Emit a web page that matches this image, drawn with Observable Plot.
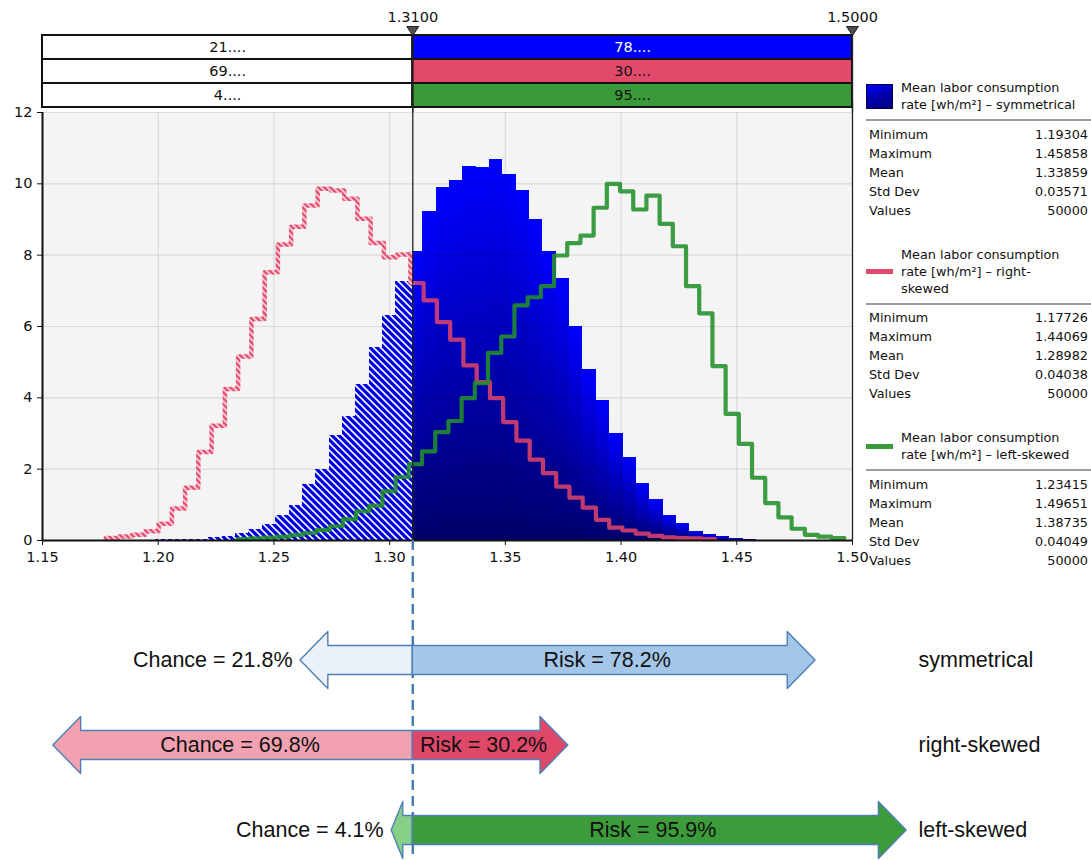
<!DOCTYPE html>
<html>
<head>
<meta charset="utf-8">
<script src="https://cdn.jsdelivr.net/npm/d3@7"></script>
<script src="https://cdn.jsdelivr.net/npm/@observablehq/plot@0.6"></script>
<style>
  body { margin: 0; background: #fff; }
  #wrap { position: relative; width: 1091px; height: 860px; overflow: hidden; font-family: "DejaVu Sans", sans-serif; }
  .layer { position: absolute; left: 0; }
  #legend { position: absolute; left: 866px; top: 79px; width: 225px; font-family: "DejaVu Sans", sans-serif; font-size: 12.8px; color: #111; }
  .lg-head { display: flex; align-items: center; line-height: 17px; white-space: nowrap; }
  .lg-sw { width: 27px; flex: none; margin-right: 8px; }
  .lg-sep { margin-top: 6px; border-top: 2px solid #9c9c9c; }
  .lg-stats { margin-top: 3.5px; padding: 0 3px; }
  .lg-row { display: flex; justify-content: space-between; height: 19px; line-height: 19px; }
  .lg-block { margin-bottom: 26px; }
</style>
</head>
<body>
<svg width="0" height="0" style="position:absolute">
  <defs>
    <pattern id="blueHatch" patternUnits="userSpaceOnUse" width="7" height="7">
      <rect width="7" height="7" fill="#0000e2"/>
      <path d="M-1,-1 L8,8 M-1,6 L1,8 M6,-1 L8,1" stroke="#ffffff" stroke-width="1.6"/>
    </pattern>
    <pattern id="redHatch" patternUnits="userSpaceOnUse" width="6" height="6">
      <rect width="6" height="6" fill="#e3486c"/>
      <path d="M-1,-1 L7,7 M-1,5 L1,7 M5,-1 L7,1" stroke="#ffffff" stroke-width="1.5"/>
    </pattern>
    <linearGradient id="blueGrad" x1="0" y1="0" x2="0" y2="1">
      <stop offset="0" stop-color="#0000ff"/>
      <stop offset="1" stop-color="#00006a"/>
    </linearGradient>
  </defs>
</svg>
<div id="wrap"></div>
<script>
// ---------------- data ----------------
const distributions = ["symmetrical", "right-skewed", "left-skewed"];
const seriesColors = ["#0000ff", "#e24a6c", "#3a9a3a"];
const statMin = [1.19304, 1.17726, 1.23415];
const statMax = [1.45858, 1.44069, 1.49651];
const statMean = [1.33859, 1.28982, 1.38735];
const statSd = [0.03571, 0.04038, 0.04049];
const statN = [50000, 50000, 50000];
const statLabels = ["Minimum", "Maximum", "Mean", "Std Dev", "Values"];
const legendHeaders = [
  ["Mean labor consumption", "rate [wh/m²] – symmetrical"],
  ["Mean labor consumption", "rate [wh/m²] – right-", "skewed"],
  ["Mean labor consumption", "rate [wh/m²] – left-skewed"]
];
const threshold = 1.31;
const upperLimit = 1.50;
const markers = [threshold, upperLimit];
const chancePct = [21.8, 69.8, 4.1];
const riskPct = [78.2, 30.2, 95.9];
const chanceShort = ["21....", "69....", "4...."];
const riskShort = ["78....", "30....", "95...."];
const chanceFill = ["#eaf1fa", "#f2a1b1", "#86d086"];
const riskFill = ["#a3c6e9", "#e0486a", "#3c9c3c"];
const xTicks = [1.15, 1.20, 1.25, 1.30, 1.35, 1.40, 1.45, 1.50];
const yTicks = [0, 2, 4, 6, 8, 10, 12];

// histogram densities (46 bins each, from minimum to maximum)
const densitySym = [0.01,0.02,0.02,0.03,0.04,0.08,0.12,0.20,0.30,0.44,
  0.69,0.97,1.56,2.00,2.93,3.48,4.36,5.40,6.30,7.25,
  8.10,9.22,9.89,10.09,10.49,10.47,10.68,10.26,9.81,9.00,
  8.10,7.34,6.00,4.80,3.93,3.01,2.33,1.59,1.15,0.70,
  0.47,0.25,0.17,0.11,0.07,0.04];
const densityRight = [0.07,0.11,0.16,0.26,0.47,0.90,1.48,2.48,3.22,4.25,
  5.16,6.21,7.52,8.30,8.80,9.39,9.86,9.81,9.58,9.02,
  8.34,7.94,8.02,7.22,6.73,6.12,5.63,4.91,4.44,3.99,
  3.32,2.80,2.27,1.89,1.51,1.20,0.92,0.58,0.36,0.28,
  0.19,0.13,0.09,0.07,0.06,0.04];
const densityLeft = [0.04,0.06,0.08,0.11,0.16,0.21,0.30,0.40,0.60,0.82,
  0.98,1.38,1.78,2.14,2.50,3.04,3.35,3.99,4.41,5.26,
  5.72,6.59,6.82,7.13,7.99,8.34,8.55,9.33,10.00,9.79,
  9.28,9.67,8.88,8.25,7.13,6.37,4.89,3.55,2.71,1.76,
  1.05,0.65,0.33,0.16,0.11,0.07];

// ---------------- helpers ----------------
const wrap = document.getElementById("wrap");
const xDomain = [xTicks[0], xTicks[xTicks.length - 1]];
const svgStyle = "background: transparent; overflow: visible; font-family: 'DejaVu Sans', sans-serif; font-size: 14.5px; color: #111;";
const tickFont = 14.5;

function bins(i, vals) {
  const w = (statMax[i] - statMin[i]) / vals.length;
  return vals.map((v, k) => ({x1: statMin[i] + k * w, x2: statMin[i] + (k + 1) * w, v}));
}
function stepPts(i, vals) {
  const w = (statMax[i] - statMin[i]) / vals.length;
  const pts = vals.map((v, k) => ({x: statMin[i] + k * w, y: v}));
  pts.push({x: statMax[i], y: vals[vals.length - 1]});
  return pts;
}
function splitAt(pts, t) {
  const j = pts.findIndex(p => p.x > t) - 1;
  const yv = pts[j].y;
  return [[...pts.slice(0, j + 1), {x: t, y: yv}], [{x: t, y: yv}, ...pts.slice(j + 1)]];
}
function place(el, top) {
  el.classList.add("layer");
  el.style.top = top + "px";
  wrap.appendChild(el);
}

// ---------------- top probability bars ----------------
const rowsData = distributions.map((d, i) => ({
  name: d, color: seriesColors[i], left: chanceShort[i], right: riskShort[i],
  textColor: i === 0 ? "#ffffff" : "#111111"
}));
const triDown = {
  draw(ctx) { ctx.moveTo(-6, -9); ctx.lineTo(6, -9); ctx.lineTo(0, 0); ctx.closePath(); }
};
const plotA = Plot.plot({
  width: 900, height: 112,
  marginLeft: 42, marginRight: 48, marginTop: 35, marginBottom: 5,
  style: svgStyle,
  x: {domain: xDomain, axis: null},
  y: {domain: distributions, axis: null, padding: 0},
  color: {type: "identity"},
  marks: [
    Plot.barX(rowsData, {x1: () => xDomain[0], x2: () => threshold, y: "name", fill: "#ffffff", stroke: "#111", strokeWidth: 2}),
    Plot.barX(rowsData, {x1: () => threshold, x2: () => upperLimit, y: "name", fill: "color", stroke: "#111", strokeWidth: 2}),
    Plot.text(rowsData, {x: () => (xDomain[0] + threshold) / 2, y: "name", text: "left", fill: "#111", fontSize: 14.5}),
    Plot.text(rowsData, {x: () => (threshold + upperLimit) / 2, y: "name", text: "right", fill: "textColor", fontSize: 14.5}),
    Plot.ruleX(markers, {x: d => d, stroke: "#222", strokeWidth: 1.3, insetTop: -8, insetBottom: -5}),
    Plot.dot(markers, {x: d => d, frameAnchor: "top", symbol: triDown, fill: "#4d4d4d", stroke: "#222", strokeWidth: 1}),
    Plot.text(markers, {x: d => d, frameAnchor: "top", lineAnchor: "middle", dy: -18, text: d => d.toFixed(4), fill: "#111", fontSize: 14.5})
  ]
});
place(plotA, 0);

// ---------------- histogram ----------------
const symBins = bins(0, densitySym);
const hatched = symBins.filter(b => b.x1 < threshold).map(b => ({...b, x2: Math.min(b.x2, threshold)}));
const solid = symBins.filter(b => b.x2 > threshold).map(b => ({...b, x1: Math.max(b.x1, threshold)}));
const redParts = splitAt(stepPts(1, densityRight), threshold);
const greenPts = stepPts(2, densityLeft);

const plotB = Plot.plot({
  width: 900, height: 480,
  marginLeft: 42, marginRight: 48, marginTop: 12, marginBottom: 40,
  style: svgStyle,
  x: {domain: xDomain},
  y: {domain: [yTicks[0], yTicks[yTicks.length - 1]]},
  marks: [
    Plot.frame({fill: "#f4f4f4", stroke: "none"}),
    Plot.rect(hatched, {x1: "x1", x2: "x2", y1: () => 0, y2: "v", fill: "url(#blueHatch)", shapeRendering: "crispEdges"}),
    Plot.rect(solid, {x1: "x1", x2: "x2", y1: () => 0, y2: "v", fill: "url(#blueGrad)", shapeRendering: "crispEdges"}),
    Plot.gridX(xTicks, {stroke: "#000", strokeOpacity: 0.1, strokeWidth: 1.2}),
    Plot.gridY(yTicks, {stroke: "#000", strokeOpacity: 0.1, strokeWidth: 1.2}),
    Plot.line(redParts[1], {x: "x", y: "y", curve: "step-after", stroke: "#e2446a", strokeOpacity: 0.85, strokeWidth: 4.2}),
    Plot.line(redParts[0], {x: "x", y: "y", curve: "step-after", stroke: "url(#redHatch)", strokeWidth: 4.5}),
    Plot.line(greenPts, {x: "x", y: "y", curve: "step-after", stroke: "#22902a", strokeOpacity: 0.88, strokeWidth: 4.2}),
    Plot.axisX(xTicks, {tickFormat: d3.format(".2f"), tickSize: 5, tickPadding: 6, label: null, stroke: "#111", fill: "#111", fontSize: tickFont}),
    Plot.axisY(yTicks, {tickSize: 5, tickPadding: 5, label: null, stroke: "#111", fill: "#111", fontSize: tickFont}),
    Plot.ruleY([yTicks[0]], {stroke: "#111", strokeWidth: 2}),
    Plot.ruleX([xTicks[0]], {stroke: "#111", strokeWidth: 2}),
    Plot.ruleX(markers, {x: d => d, stroke: "#222", strokeWidth: 1.3, insetTop: -12})
  ]
});
place(plotB, 100);

// ---------------- chance / risk arrows ----------------
const pxPerPct = 5.15, headPct = 5.4, shaftHalf = 0.17, headHalf = 0.335;
const zeroPx = plotB.scale("x").apply(threshold);
const arrowRight = 918;
function arrowPts(id, dir, len, row, fill) {
  const h = Math.min(headPct, len * 0.55);
  const b = dir * (len - h), t = dir * len;
  return [
    {id, fill, x: 0, y1: row - shaftHalf, y2: row + shaftHalf},
    {id, fill, x: b, y1: row - shaftHalf, y2: row + shaftHalf},
    {id, fill, x: b, y1: row - headHalf, y2: row + headHalf},
    {id, fill, x: t, y1: row, y2: row}
  ];
}
const arrows = distributions.flatMap((d, i) => [
  ...arrowPts(d + "-chance", -1, chancePct[i], i, chanceFill[i]),
  ...arrowPts(d + "-risk", 1, riskPct[i], i, riskFill[i])
]);
const labels = distributions.flatMap((d, i) => {
  const hc = Math.min(headPct, chancePct[i] * 0.55), hr = Math.min(headPct, riskPct[i] * 0.55);
  const inside = chancePct[i] >= 30;
  return [
    {row: i, text: `Chance = ${chancePct[i]}%`, x: inside ? -(chancePct[i] - hc / 2) / 2 : -chancePct[i], anchor: inside ? "middle" : "end"},
    {row: i, text: `Risk = ${riskPct[i]}%`, x: (riskPct[i] - hr / 2) / 2, anchor: "middle"}
  ];
});
const nameRows = distributions.map((d, i) => ({row: i, name: d}));

const plotC = Plot.plot({
  width: 1091, height: 320,
  marginLeft: 0, marginRight: 1091 - arrowRight, marginTop: 0, marginBottom: 0,
  style: "background: transparent; overflow: visible;",
  x: {domain: [-zeroPx / pxPerPct, (arrowRight - zeroPx) / pxPerPct], axis: null},
  y: {domain: [2.353, -1.412], axis: null},
  color: {type: "identity"},
  marks: [
    Plot.ruleX([0], {stroke: "#4a7ab0", strokeWidth: 2.5, strokeDasharray: "10,6"}),
    Plot.areaY(arrows, {x: "x", y1: "y1", y2: "y2", z: "id", fill: "fill", stroke: "#4f7fb6", strokeWidth: 1.4}),
    Plot.text(labels.filter(l => l.anchor === "end"), {x: "x", y: "row", text: "text", textAnchor: "end", dx: -8, fontFamily: "Liberation Sans", fontSize: 21.5, fill: "#111"}),
    Plot.text(labels.filter(l => l.anchor === "middle"), {x: "x", y: "row", text: "text", fontFamily: "Liberation Sans", fontSize: 21.5, fill: "#111"}),
    Plot.text(nameRows, {y: "row", text: "name", frameAnchor: "right", textAnchor: "start", fontFamily: "Liberation Sans", fontSize: 21.5, fill: "#111"})
  ]
});
place(plotC, 540);

// ---------------- legend ----------------
const legend = document.createElement("div");
legend.id = "legend";
distributions.forEach((d, i) => {
  const block = document.createElement("div");
  block.className = "lg-block";
  const head = document.createElement("div");
  head.className = "lg-head";
  const sw = document.createElement("div");
  sw.className = "lg-sw";
  if (i === 0) {
    sw.style.height = "25px";
    sw.style.border = "1.5px solid #000050";
    sw.style.boxSizing = "border-box";
    sw.style.background = "linear-gradient(160deg, #0000ff 0%, #0000b0 45%, #000080 100%)";
  } else {
    sw.style.height = "5px";
    sw.style.background = seriesColors[i];
  }
  const txt = document.createElement("div");
  txt.innerHTML = legendHeaders[i].join("<br>");
  head.appendChild(sw);
  head.appendChild(txt);
  block.appendChild(head);
  const sep = document.createElement("div");
  sep.className = "lg-sep";
  block.appendChild(sep);
  const stats = document.createElement("div");
  stats.className = "lg-stats";
  const vals = [statMin[i].toFixed(5), statMax[i].toFixed(5), statMean[i].toFixed(5), statSd[i].toFixed(5), String(statN[i])];
  statLabels.forEach((lab, k) => {
    const r = document.createElement("div");
    r.className = "lg-row";
    r.innerHTML = `<span>${lab}</span><span>${vals[k]}</span>`;
    stats.appendChild(r);
  });
  block.appendChild(stats);
  legend.appendChild(block);
});
wrap.appendChild(legend);
</script>
</body>
</html>
